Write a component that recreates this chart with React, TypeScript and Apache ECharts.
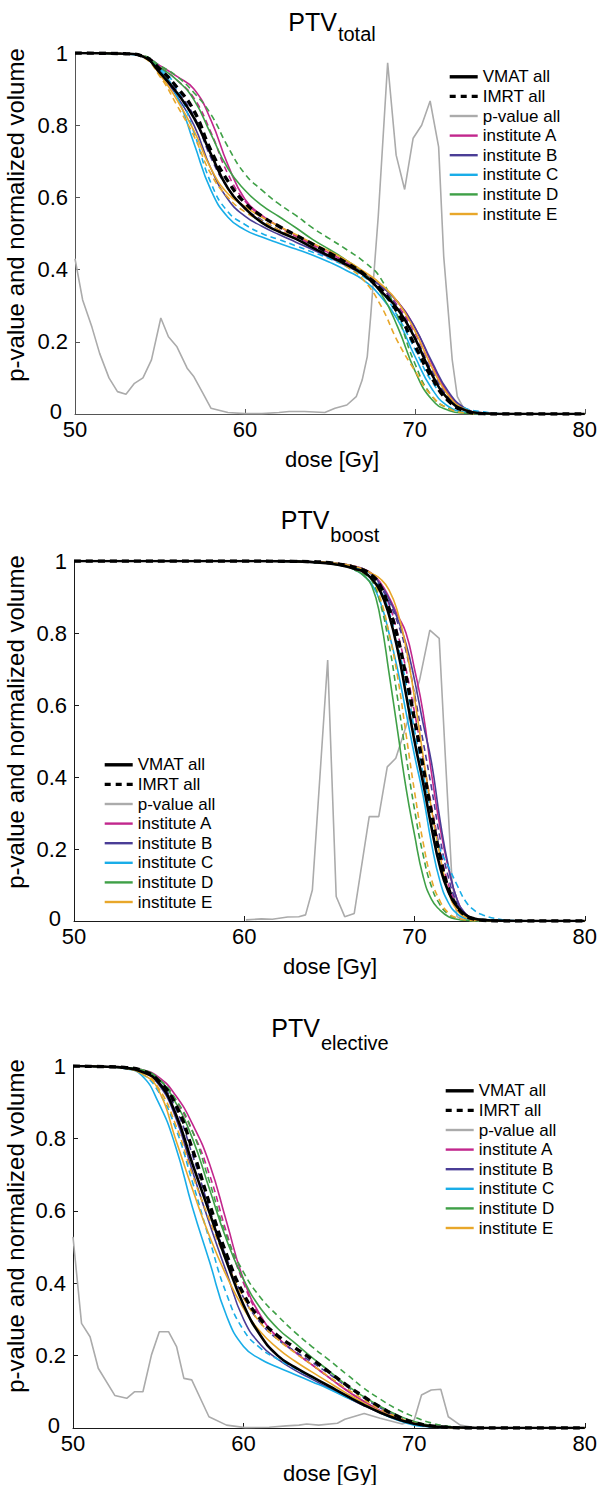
import React, { useEffect, useRef } from "react";
import * as echarts from "echarts";

const FONT = "'Liberation Sans', Arial, Helvetica, sans-serif";

const NAMES = ["VMAT all", "IMRT all", "p-value all", "institute A", "institute B", "institute C", "institute D", "institute E"];
const INST = ["A", "B", "C", "D", "E"];
const INST_COLORS = ["#C2278D", "#4A3D96", "#19ADE8", "#3FA047", "#E8A72A"];
const P_COLOR = "#ABABAB";
const TITLES = [["PTV", "total"], ["PTV", "boost"], ["PTV", "elective"]];
const X_NAME = "dose [Gy]";
const Y_NAME = "p-value and normalized volume";

// ---------- PTV total ----------
const totalDose = [50, 53, 54, 55, 56, 57, 58, 59, 60, 61, 62, 63, 64, 65, 66, 67, 68, 69, 70, 71, 72, 73, 74, 75, 80];
const totalVMAT = [1, 0.998, 0.99, 0.945, 0.89, 0.82, 0.72, 0.625, 0.57, 0.53, 0.505, 0.485, 0.46, 0.437, 0.413, 0.385, 0.34, 0.29, 0.21, 0.11, 0.04, 0.01, 0.002, 0, 0];
const totalIMRT = [1, 0.998, 0.991, 0.955, 0.905, 0.84, 0.73, 0.645, 0.585, 0.548, 0.52, 0.495, 0.47, 0.445, 0.418, 0.388, 0.345, 0.28, 0.19, 0.1, 0.035, 0.008, 0.001, 0, 0];
const totalA_V = [1, 0.998, 0.992, 0.965, 0.935, 0.9, 0.814, 0.69, 0.595, 0.55, 0.52, 0.495, 0.47, 0.445, 0.42, 0.39, 0.355, 0.31, 0.24, 0.14, 0.055, 0.012, 0.002, 0, 0];
const totalA_I = [1, 0.998, 0.991, 0.96, 0.925, 0.875, 0.78, 0.665, 0.59, 0.548, 0.518, 0.492, 0.467, 0.442, 0.417, 0.388, 0.35, 0.3, 0.225, 0.13, 0.05, 0.012, 0.002, 0, 0];
const totalB_V = [1, 0.998, 0.99, 0.945, 0.88, 0.8, 0.68, 0.595, 0.548, 0.52, 0.497, 0.476, 0.455, 0.433, 0.41, 0.385, 0.355, 0.31, 0.24, 0.145, 0.06, 0.015, 0.003, 0, 0];
const totalB_I = [1, 0.998, 0.99, 0.95, 0.895, 0.825, 0.71, 0.625, 0.57, 0.537, 0.51, 0.487, 0.463, 0.44, 0.415, 0.387, 0.35, 0.295, 0.215, 0.12, 0.045, 0.01, 0.002, 0, 0];
const totalC_V = [1, 0.997, 0.99, 0.955, 0.88, 0.75, 0.62, 0.545, 0.51, 0.49, 0.473, 0.457, 0.44, 0.42, 0.397, 0.37, 0.325, 0.26, 0.16, 0.07, 0.02, 0.005, 0.001, 0, 0];
const totalC_I = [1, 0.997, 0.99, 0.96, 0.9, 0.78, 0.64, 0.56, 0.525, 0.5, 0.483, 0.466, 0.448, 0.43, 0.408, 0.38, 0.34, 0.27, 0.18, 0.09, 0.04, 0.015, 0.006, 0.001, 0];
const totalD_V = [1, 0.998, 0.992, 0.96, 0.925, 0.87, 0.775, 0.68, 0.62, 0.578, 0.547, 0.516, 0.483, 0.455, 0.425, 0.39, 0.335, 0.24, 0.12, 0.04, 0.01, 0.002, 0, 0, 0];
const totalD_I = [1, 0.998, 0.993, 0.965, 0.935, 0.89, 0.83, 0.74, 0.665, 0.62, 0.582, 0.55, 0.515, 0.485, 0.455, 0.422, 0.375, 0.27, 0.14, 0.05, 0.015, 0.003, 0, 0, 0];
const totalE_V = [1, 0.998, 0.99, 0.94, 0.87, 0.785, 0.68, 0.61, 0.575, 0.545, 0.52, 0.497, 0.473, 0.45, 0.425, 0.395, 0.36, 0.31, 0.23, 0.13, 0.05, 0.012, 0.002, 0, 0];
const totalE_I = [1, 0.998, 0.988, 0.935, 0.855, 0.77, 0.665, 0.6, 0.56, 0.535, 0.51, 0.487, 0.462, 0.436, 0.408, 0.37, 0.3, 0.2, 0.12, 0.05, 0.015, 0.003, 0, 0, 0];
const totalPDose = [50, 50.45, 51, 51.45, 52, 52.5, 53, 53.5, 54, 54.5, 55.05, 55.5, 56, 56.6, 57, 57.5, 58, 59, 60, 61, 62, 62.6, 63.5, 64.7, 65.3, 66, 66.55, 66.9, 67.2, 67.4, 67.85, 68.4, 68.9, 69.4, 69.9, 70.4, 70.9, 71.4, 71.7, 72.2, 72.5, 73, 74, 80];
const totalPVal = [0.43, 0.316, 0.24, 0.168, 0.1, 0.062, 0.055, 0.085, 0.1, 0.15, 0.266, 0.214, 0.186, 0.127, 0.103, 0.06, 0.016, 0.004, 0.001, 0.001, 0.004, 0.007, 0.007, 0.004, 0.016, 0.025, 0.048, 0.094, 0.159, 0.27, 0.55, 0.973, 0.717, 0.622, 0.764, 0.8, 0.867, 0.74, 0.436, 0.15, 0.048, 0.005, 0.002, 0];

// ---------- PTV boost ----------
const boostDose = [50, 60, 63, 64, 65, 66, 66.5, 67, 67.5, 68, 68.5, 69, 69.5, 70, 70.5, 71, 71.5, 72, 72.5, 73, 73.5, 74, 75, 76, 80];
const boostVMAT = [1, 1, 0.999, 0.997, 0.993, 0.985, 0.978, 0.97, 0.95, 0.915, 0.85, 0.755, 0.63, 0.5, 0.385, 0.26, 0.15, 0.08, 0.04, 0.017, 0.007, 0.003, 0.001, 0, 0];
const boostIMRT = [1, 1, 0.999, 0.998, 0.995, 0.988, 0.982, 0.975, 0.96, 0.93, 0.87, 0.79, 0.68, 0.56, 0.43, 0.3, 0.18, 0.09, 0.04, 0.015, 0.005, 0.002, 0, 0, 0];
const boostA_V = [1, 1, 0.999, 0.998, 0.996, 0.99, 0.985, 0.978, 0.965, 0.94, 0.9, 0.85, 0.8, 0.7, 0.58, 0.41, 0.26, 0.145, 0.06, 0.02, 0.006, 0.002, 0, 0, 0];
const boostA_I = [1, 1, 0.999, 0.998, 0.995, 0.988, 0.982, 0.975, 0.96, 0.93, 0.88, 0.8, 0.7, 0.58, 0.45, 0.32, 0.2, 0.1, 0.045, 0.016, 0.005, 0.002, 0, 0, 0];
const boostB_V = [1, 1, 0.999, 0.998, 0.995, 0.99, 0.984, 0.978, 0.962, 0.935, 0.895, 0.84, 0.77, 0.67, 0.55, 0.44, 0.28, 0.15, 0.06, 0.02, 0.006, 0.002, 0, 0, 0];
const boostB_I = [1, 1, 0.999, 0.998, 0.995, 0.989, 0.983, 0.976, 0.96, 0.93, 0.885, 0.83, 0.75, 0.63, 0.5, 0.37, 0.23, 0.12, 0.05, 0.018, 0.006, 0.002, 0, 0, 0];
const boostC_V = [1, 1, 0.999, 0.997, 0.993, 0.985, 0.975, 0.96, 0.935, 0.885, 0.8, 0.7, 0.58, 0.46, 0.35, 0.215, 0.11, 0.05, 0.02, 0.007, 0.002, 0, 0, 0, 0];
const boostC_I = [1, 1, 0.999, 0.998, 0.995, 0.988, 0.982, 0.975, 0.955, 0.92, 0.86, 0.77, 0.66, 0.53, 0.41, 0.3, 0.2, 0.15, 0.1, 0.055, 0.03, 0.017, 0.005, 0.001, 0];
const boostD_V = [1, 1, 0.999, 0.997, 0.993, 0.985, 0.975, 0.96, 0.93, 0.84, 0.69, 0.53, 0.37, 0.24, 0.125, 0.06, 0.03, 0.012, 0.005, 0.002, 0.001, 0, 0, 0, 0];
const boostD_I = [1, 1, 0.999, 0.997, 0.994, 0.987, 0.977, 0.965, 0.945, 0.88, 0.77, 0.62, 0.46, 0.31, 0.185, 0.095, 0.045, 0.018, 0.007, 0.002, 0, 0, 0, 0, 0];
const boostE_V = [1, 1, 0.999, 0.998, 0.996, 0.99, 0.985, 0.977, 0.965, 0.95, 0.92, 0.86, 0.76, 0.62, 0.46, 0.31, 0.18, 0.08, 0.03, 0.01, 0.003, 0.001, 0, 0, 0];
const boostE_I = [1, 1, 0.999, 0.997, 0.993, 0.985, 0.977, 0.968, 0.95, 0.895, 0.8, 0.68, 0.52, 0.36, 0.22, 0.115, 0.055, 0.022, 0.008, 0.003, 0.001, 0, 0, 0, 0];
const boostPDose = [60.1, 61, 61.65, 62.55, 63.2, 63.6, 64.0, 64.9, 65.4, 65.9, 66.46, 67.34, 67.9, 68.4, 68.9, 69.5, 70.3, 70.9, 71.45, 71.8, 72.2, 72.5, 73, 80];
const boostPVal = [0.003, 0.006, 0.005, 0.011, 0.012, 0.017, 0.086, 0.725, 0.068, 0.012, 0.021, 0.29, 0.29, 0.428, 0.452, 0.54, 0.67, 0.808, 0.785, 0.466, 0.114, 0.012, 0.002, 0];

// ---------- PTV elective ----------
const electDose = [50, 52, 53, 54, 55, 56, 57, 58, 59, 60, 61, 62, 63, 64, 65, 66, 67, 68, 69, 70, 71, 72, 73, 74, 75, 80];
const electVMAT = [1, 0.998, 0.995, 0.985, 0.955, 0.87, 0.73, 0.595, 0.46, 0.34, 0.255, 0.2, 0.168, 0.142, 0.116, 0.09, 0.065, 0.043, 0.025, 0.012, 0.005, 0.002, 0.001, 0, 0, 0];
const electIMRT = [1, 0.998, 0.996, 0.988, 0.96, 0.895, 0.77, 0.62, 0.48, 0.37, 0.3, 0.255, 0.222, 0.19, 0.155, 0.12, 0.088, 0.058, 0.033, 0.015, 0.006, 0.002, 0, 0, 0, 0];
const electA_V = [1, 0.998, 0.996, 0.99, 0.97, 0.92, 0.84, 0.73, 0.57, 0.41, 0.31, 0.25, 0.21, 0.175, 0.14, 0.105, 0.075, 0.048, 0.027, 0.012, 0.005, 0.001, 0, 0, 0, 0];
const electA_I = [1, 0.998, 0.996, 0.989, 0.965, 0.905, 0.82, 0.7, 0.54, 0.4, 0.305, 0.25, 0.21, 0.175, 0.14, 0.106, 0.075, 0.048, 0.026, 0.011, 0.004, 0.001, 0, 0, 0, 0];
const electB_V = [1, 0.998, 0.995, 0.985, 0.95, 0.86, 0.71, 0.565, 0.43, 0.3, 0.23, 0.19, 0.16, 0.135, 0.11, 0.086, 0.063, 0.042, 0.024, 0.011, 0.004, 0.001, 0, 0, 0, 0];
const electB_I = [1, 0.998, 0.996, 0.987, 0.958, 0.885, 0.755, 0.605, 0.47, 0.36, 0.29, 0.245, 0.212, 0.182, 0.15, 0.116, 0.085, 0.056, 0.032, 0.014, 0.005, 0.001, 0, 0, 0, 0];
const electC_V = [1, 0.998, 0.993, 0.975, 0.9, 0.78, 0.61, 0.46, 0.31, 0.225, 0.19, 0.168, 0.148, 0.128, 0.108, 0.085, 0.065, 0.042, 0.022, 0.008, 0.003, 0.001, 0, 0, 0, 0];
const electC_I = [1, 0.998, 0.994, 0.98, 0.93, 0.83, 0.68, 0.52, 0.37, 0.27, 0.22, 0.19, 0.165, 0.14, 0.115, 0.09, 0.067, 0.045, 0.025, 0.01, 0.004, 0.001, 0, 0, 0, 0];
const electD_V = [1, 0.998, 0.996, 0.99, 0.965, 0.9, 0.8, 0.66, 0.52, 0.41, 0.33, 0.275, 0.235, 0.195, 0.158, 0.12, 0.088, 0.06, 0.036, 0.018, 0.007, 0.002, 0, 0, 0, 0];
const electD_I = [1, 0.998, 0.996, 0.99, 0.965, 0.91, 0.82, 0.68, 0.53, 0.43, 0.36, 0.31, 0.265, 0.225, 0.188, 0.15, 0.112, 0.08, 0.052, 0.031, 0.014, 0.005, 0.001, 0, 0, 0];
const electE_V = [1, 0.998, 0.994, 0.98, 0.935, 0.8, 0.66, 0.53, 0.42, 0.33, 0.265, 0.22, 0.185, 0.155, 0.126, 0.097, 0.07, 0.046, 0.027, 0.013, 0.005, 0.001, 0, 0, 0, 0];
const electE_I = [1, 0.998, 0.995, 0.985, 0.94, 0.84, 0.7, 0.575, 0.46, 0.36, 0.29, 0.245, 0.208, 0.175, 0.142, 0.11, 0.08, 0.053, 0.03, 0.014, 0.005, 0.001, 0, 0, 0, 0];
const electPDose = [50, 50.5, 51, 51.48, 52.45, 53.15, 53.6, 54.1, 54.6, 55.06, 55.6, 56.07, 56.5, 56.96, 57.97, 59, 60.1, 61.5, 62.5, 63.25, 63.7, 64.4, 65.5, 65.94, 67.07, 68, 69.3, 70, 70.43, 71, 71.56, 72, 72.7, 73.5, 80];
const electPVal = [0.528, 0.289, 0.252, 0.165, 0.09, 0.082, 0.1, 0.1, 0.202, 0.266, 0.266, 0.225, 0.137, 0.133, 0.031, 0.008, 0.001, 0.002, 0.006, 0.008, 0.011, 0.008, 0.013, 0.024, 0.04, 0.027, 0.011, 0.022, 0.091, 0.105, 0.107, 0.031, 0.008, 0.001, 0];

const PLOTS = [
  { dose: totalDose, vmat: totalVMAT, imrt: totalIMRT, inst: [[totalA_V, totalA_I], [totalB_V, totalB_I], [totalC_V, totalC_I], [totalD_V, totalD_I], [totalE_V, totalE_I]], pDose: totalPDose, pVal: totalPVal },
  { dose: boostDose, vmat: boostVMAT, imrt: boostIMRT, inst: [[boostA_V, boostA_I], [boostB_V, boostB_I], [boostC_V, boostC_I], [boostD_V, boostD_I], [boostE_V, boostE_I]], pDose: boostPDose, pVal: boostPVal },
  { dose: electDose, vmat: electVMAT, imrt: electIMRT, inst: [[electA_V, electA_I], [electB_V, electB_I], [electC_V, electC_I], [electD_V, electD_I], [electE_V, electE_I]], pDose: electPDose, pVal: electPVal },
];

// layout
const GRIDS = [
  { left: 75, top: 53, width: 514, height: 361 },
  { left: 74, top: 561, width: 512, height: 360 },
  { left: 73, top: 1066, width: 514, height: 362 },
];
const AXIS_COLORS = ["#555555", "#1a1a1a", "#1a1a1a"];
const LEGEND_POS = [
  { left: 443, top: 62 },
  { left: 98, top: 750 },
  { left: 439, top: 1076 },
];
const TITLE_Y = [[22, 34], [520, 535], [1028, 1043]];
const YNAME_Y = [215, 722, 1226];

function pairs(xs: number[], ys: number[]) {
  return xs.map((x, i) => [x, ys[i]]);
}

function measure(text: string, size: number) {
  const c = document.createElement("canvas").getContext("2d");
  if (!c) return text.length * size * 0.55;
  c.font = `${size}px ${FONT}`;
  return c.measureText(text).width;
}

export default function App() {
  const ref = useRef<HTMLDivElement>(null);
  useEffect(() => {
    document.body.style.margin = "0";
    if (!ref.current) return;
    const chart = echarts.init(ref.current, null, { renderer: "svg" });

    const series: any[] = [];
    const xAxis: any[] = [];
    const yAxis: any[] = [];
    const graphic: any[] = [];
    PLOTS.forEach((p, g) => {
      const axisColor = AXIS_COLORS[g];
      xAxis.push({
        type: "value", gridIndex: g, min: 50, max: 80, interval: 10,
        axisLine: { show: true, onZero: false, lineStyle: { color: axisColor, width: 1 } },
        axisTick: { show: true, inside: true, length: 5, lineStyle: { color: axisColor } },
        axisLabel: { fontSize: 22, color: "#000", fontFamily: FONT, margin: 4, showMinLabel: true, showMaxLabel: true },
        splitLine: { show: false },
      });
      yAxis.push({
        type: "value", gridIndex: g, min: 0, max: 1, interval: 0.2,
        axisLine: { show: true, onZero: false, lineStyle: { color: axisColor, width: 1 } },
        axisTick: { show: true, inside: true, length: 5, lineStyle: { color: axisColor } },
        axisLabel: {
          fontSize: 22, color: "#000", fontFamily: FONT, margin: 7, showMinLabel: true, showMaxLabel: true,
          formatter: (v: number) => (v === 0 ? "{z|0}" : String(Math.round(v * 10) / 10)),
          rich: { z: { fontSize: 22, color: "#000", fontFamily: FONT, padding: [0, 6, 6, 0] } },
        },
        splitLine: { show: false },
      });
      const base = { type: "line", xAxisIndex: g, yAxisIndex: g, symbol: "none", showSymbol: false, animation: false };
      const sm = { smooth: 0.5 };
      series.push({ ...base, name: "p-value all", z: 1, data: pairs(p.pDose, p.pVal), lineStyle: { color: P_COLOR, width: 1.6 }, itemStyle: { color: P_COLOR } });
      p.inst.forEach((pair, k) => {
        const color = INST_COLORS[k];
        series.push({ ...base, ...sm, name: "institute " + INST[k], z: 2, data: pairs(p.dose, pair[0]), lineStyle: { color, width: 1.6 }, itemStyle: { color } });
        series.push({ ...base, ...sm, name: "institute " + INST[k], z: 2, data: pairs(p.dose, pair[1]), lineStyle: { color, width: 1.6, type: [6, 4] }, itemStyle: { color } });
      });
      series.push({ ...base, ...sm, name: "VMAT all", z: 4, data: pairs(p.dose, p.vmat), lineStyle: { color: "#000", width: 2.6 }, itemStyle: { color: "#000" } });
      series.push({ ...base, ...sm, name: "IMRT all", z: 3, data: pairs(p.dose, p.imrt), lineStyle: { color: "#000", width: 3.4, type: [7, 5] }, itemStyle: { color: "#000" } });

      // titles with subscript
      const [mainT, subT] = TITLES[g];
      const w1 = measure(mainT, 25);
      const w2 = measure(subT, 20);
      const cx = GRIDS[g].left + GRIDS[g].width / 2;
      const x0 = cx - (w1 + w2 + 1) / 2;
      graphic.push({ type: "text", x: x0, y: TITLE_Y[g][0], style: { text: mainT, fill: "#000", fontSize: 25, fontFamily: FONT, align: "left", verticalAlign: "middle" } });
      graphic.push({ type: "text", x: x0 + w1 + 1, y: TITLE_Y[g][1], style: { text: subT, fill: "#000", fontSize: 20, fontFamily: FONT, align: "left", verticalAlign: "middle" } });
      // axis names
      graphic.push({ type: "text", x: cx, y: GRIDS[g].top + GRIDS[g].height + 45, style: { text: X_NAME, fill: "#000", fontSize: 22, fontFamily: FONT, align: "center", verticalAlign: "middle" } });
      graphic.push({ type: "text", x: 15, y: YNAME_Y[g], rotation: Math.PI / 2, style: { text: Y_NAME, fill: "#000", fontSize: 24, fontFamily: FONT, align: "center", verticalAlign: "middle" } });
    });

    const legendData = NAMES.map((name, i) => {
      if (i === 0) return { name, lineStyle: { width: 3.4 } };
      if (i === 1) return { name, lineStyle: { width: 3.4, type: [6, 5] } };
      return { name, lineStyle: { width: 2.4 } };
    });

    const legend = LEGEND_POS.map((pos) => ({
      ...pos,
      orient: "vertical",
      data: legendData,
      selectedMode: false,
      itemWidth: 28,
      itemHeight: 14,
      itemGap: 0,
      itemStyle: { opacity: 0, borderWidth: 0, color: "rgba(0,0,0,0)" },
      textStyle: { fontSize: 17, color: "#000", fontFamily: FONT, lineHeight: 19.6 },
    }));

    chart.setOption({
      animation: false,
      backgroundColor: "#fff",
      grid: GRIDS.map((g) => ({ ...g, containLabel: false })),
      xAxis,
      yAxis,
      legend,
      series,
      graphic,
    });
    return () => chart.dispose();
  }, []);
  return <div ref={ref} style={{ width: 600, height: 1485 }} />;
}
